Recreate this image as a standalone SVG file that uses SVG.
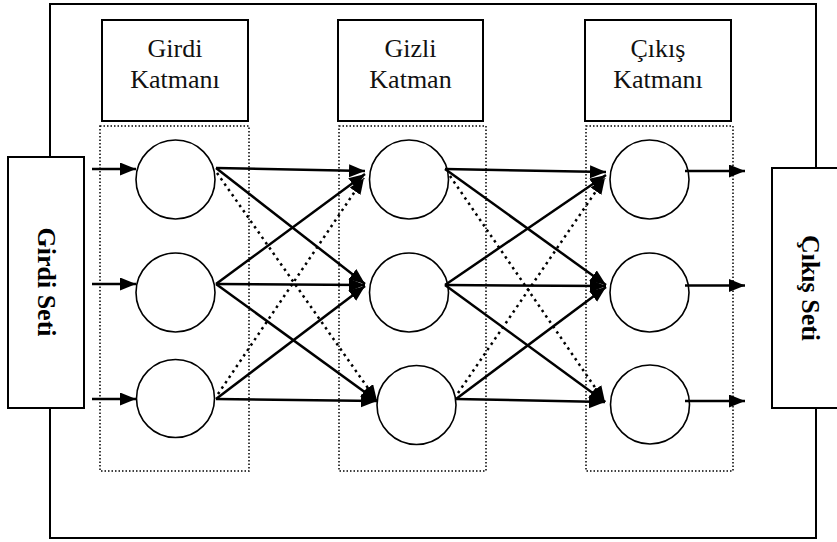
<svg xmlns="http://www.w3.org/2000/svg" width="837" height="542" viewBox="0 0 837 542">
<style>
.frame{fill:none;stroke:#000;stroke-width:2}
.box{fill:#fff;stroke:#000;stroke-width:2}
.dotbox{fill:none;stroke:#000;stroke-width:1.5;stroke-dasharray:1.5 2}
.node{fill:#fff;stroke:#000;stroke-width:1.6}
.lbl{font-family:"Liberation Serif","Times New Roman",serif;font-size:26px;fill:#111;text-anchor:middle}
.side{font-family:"Liberation Serif","Times New Roman",serif;font-size:26px;font-weight:bold;fill:#000;text-anchor:middle}
.c{fill:none;stroke:#000;stroke-width:2.5;marker-end:url(#ah)}
.d{fill:none;stroke:#000;stroke-width:2.5;stroke-dasharray:2.5 4;marker-end:url(#ah)}
</style>
<defs>
<marker id="ah" markerUnits="userSpaceOnUse" markerWidth="17" markerHeight="14" refX="16" refY="6.5" orient="auto">
<path d="M0,0 L16,6.5 L0,13 z" fill="#000"/>
</marker>
</defs>
<rect x="0" y="0" width="837" height="542" fill="#fff"/>
<rect id="outer-frame" class="frame" x="50" y="4" width="766" height="534"/>

<g id="girdi-seti">
<rect class="box" x="8" y="157" width="76" height="251"/>
<text class="side" transform="translate(38,282) rotate(90)">Girdi Seti</text>
</g>
<g id="cikis-seti">
<rect class="box" x="772" y="168" width="70" height="240"/>
<text class="side" transform="translate(802,288) rotate(90)">Çıkış Seti</text>
</g>

<g id="girdi-katmani">
<rect class="box" x="102" y="20" width="146" height="101"/>
<text class="lbl" x="175" y="57">Girdi</text>
<text class="lbl" x="175" y="88">Katmanı</text>
<rect class="dotbox" x="100" y="126" width="149" height="345"/>
</g>
<g id="gizli-katman">
<rect class="box" x="338" y="20" width="145" height="101"/>
<text class="lbl" x="410.5" y="57">Gizli</text>
<text class="lbl" x="410.5" y="88">Katman</text>
<rect class="dotbox" x="339" y="126" width="147" height="345"/>
</g>
<g id="cikis-katmani">
<rect class="box" x="585" y="20" width="146" height="101"/>
<text class="lbl" x="658" y="57">Çıkış</text>
<text class="lbl" x="658" y="88">Katmanı</text>
<rect class="dotbox" x="586" y="126" width="147" height="345"/>
</g>

<g id="input-nodes">
<circle id="i1" class="node" cx="175.5" cy="179.5" r="39.5"/>
<circle id="i2" class="node" cx="175.5" cy="292.5" r="39.5"/>
<circle id="i3" class="node" cx="175.5" cy="398.5" r="39"/>
</g>
<g id="hidden-nodes">
<circle id="h1" class="node" cx="409" cy="179.5" r="39.5"/>
<circle id="h2" class="node" cx="409" cy="292.5" r="39.5"/>
<circle id="h3" class="node" cx="416.5" cy="405" r="39.5"/>
</g>
<g id="output-nodes">
<circle id="o1" class="node" cx="649.5" cy="179.5" r="39.5"/>
<circle id="o2" class="node" cx="649.5" cy="292.5" r="39.5"/>
<circle id="o3" class="node" cx="650" cy="404.5" r="39.5"/>
</g>

<g id="connectors">
<line class="c" x1="92" y1="169" x2="136" y2="169"/>
<line class="c" x1="92" y1="284" x2="136" y2="284"/>
<line class="c" x1="92" y1="399" x2="136" y2="399"/>

<line class="c" x1="216" y1="168" x2="365" y2="171"/>
<line class="c" x1="216" y1="168" x2="365" y2="284"/>
<line class="d" x1="217" y1="173" x2="377" y2="401"/>
<line class="c" x1="216" y1="284" x2="365" y2="174"/>
<line class="c" x1="216" y1="284" x2="365" y2="285"/>
<line class="c" x1="216" y1="284" x2="377" y2="401"/>
<line class="d" x1="218" y1="394" x2="364" y2="178"/>
<line class="c" x1="216" y1="399" x2="365" y2="286"/>
<line class="c" x1="216" y1="399" x2="377" y2="401"/>

<line class="c" x1="445" y1="169" x2="606" y2="172"/>
<line class="c" x1="445" y1="169" x2="606" y2="285"/>
<line class="d" x1="450" y1="176" x2="605" y2="402"/>
<line class="c" x1="445" y1="285" x2="606" y2="175"/>
<line class="c" x1="445" y1="285" x2="606" y2="286"/>
<line class="c" x1="445" y1="285" x2="605" y2="402"/>
<line class="d" x1="458" y1="393" x2="605" y2="178"/>
<line class="c" x1="456" y1="399" x2="606" y2="287"/>
<line class="c" x1="456" y1="399" x2="605" y2="402"/>

<line class="c" x1="685" y1="171" x2="745" y2="171"/>
<line class="c" x1="685" y1="285.5" x2="745" y2="285.5"/>
<line class="c" x1="685" y1="401" x2="745" y2="401"/>
</g>
</svg>
